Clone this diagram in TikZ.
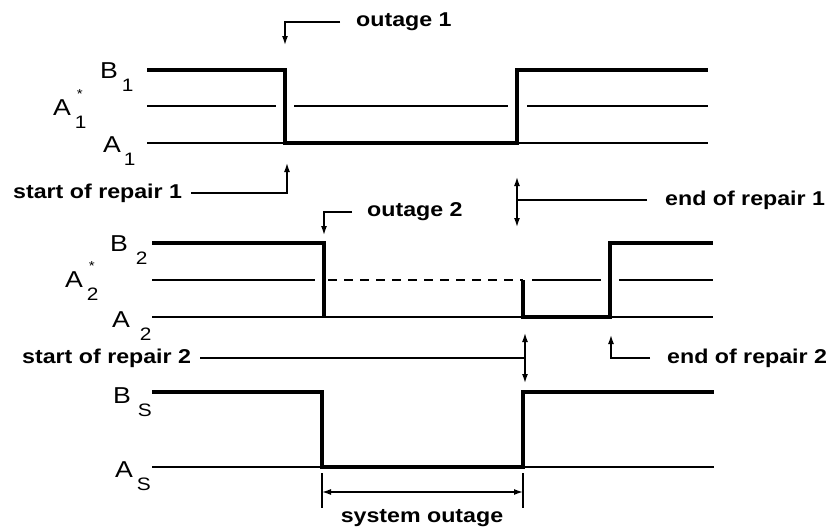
\documentclass[tikz,border=0pt]{standalone}
\usepackage{fontspec}
\setmainfont[FakeStretch=1.16]{Liberation Sans}
\usetikzlibrary{arrows.meta}
\newcommand{\subsz}{\fontsize{18}{18}\selectfont}
\newcommand{\siglab}[3][4pt]{#2\hspace{#1}\raisebox{-13pt}{\subsz #3}}
\newcommand{\starlab}[3][4pt]{#2\hspace{#1}\rlap{\hspace{2pt}\raisebox{17pt}{\fontsize{13}{13}\selectfont *}}\raisebox{-13pt}{\subsz #3}}
\begin{document}
\begin{tikzpicture}[x=1pt, y=-1pt, >={Latex[length=9pt,width=6pt]},
  sig/.style={line width=3.3pt},
  lvl/.style={line width=1.4pt},
  lead/.style={line width=1.4pt},
  tag/.style={font=\fontsize{20}{24}\selectfont\bfseries, inner sep=0pt},
  lab/.style={font=\fontsize{23}{26}\selectfont, inner sep=0pt, anchor=base west}]
\useasboundingbox (0,0) rectangle (833,531);
% component 1
\draw[lvl] (147,143) -- (708,143);
\draw[lvl] (147,106) -- (276,106) (294,106) -- (508,106) (527,106) -- (708,106);
\draw[sig] (147,70) -- (285,70) -- (285,143) -- (517,143) -- (517,70) -- (708,70);
\node[lab] (b1) at (100,78) {\siglab{B}{1}};
\node[lab] (a1s) at (53,115) {\starlab{A}{1}};
\node[lab] (a1) at (103,152) {\siglab[3pt]{A}{1}};
% component 2
\draw[lvl] (152,317) -- (713,317);
\draw[lvl] (152,280) -- (315,280) (532,280) -- (601,280) (619,280) -- (713,280);
\draw[lvl, dash pattern=on 9pt off 7pt] (328,280) -- (523,280);
\draw[sig] (152,243) -- (324,243) -- (324,317);
\draw[sig] (523,280) -- (523,317) -- (610,317) -- (610,243) -- (713,243);
\node[lab] (b2) at (110,251) {\siglab[8pt]{B}{2}};
\node[lab] (a2s) at (65,287) {\starlab{A}{2}};
\node[lab] (a2) at (112,327) {\siglab[10pt]{A}{2}};
% system
\draw[lvl] (152,467) -- (714,467);
\draw[sig] (152,392) -- (322,392) -- (322,467) -- (523,467) -- (523,392) -- (714,392);
\node[lab] (bs) at (113,403) {\siglab[7pt]{B}{S}};
\node[lab] (as) at (115,477) {\siglab[4pt]{A}{S}};
% events
\coordinate (o1) at (285,45);
\coordinate (r1) at (287,163);
\coordinate (e1a) at (517,177);
\coordinate (e1b) at (517,227);
\coordinate (o2) at (324,235);
\coordinate (r2a) at (525,333);
\coordinate (r2b) at (525,383);
\coordinate (e2) at (611,335);
\node[tag, anchor=west] (out1) at (356,22) {outage 1};
\node[tag, anchor=west] (rep1) at (13,193) {start of repair 1};
\node[tag, anchor=west] (end1) at (665,200) {end of repair 1};
\node[tag, anchor=west] (out2) at (367,212) {outage 2};
\node[tag, anchor=west] (rep2) at (22,358) {start of repair 2};
\node[tag, anchor=west] (end2) at (667,358) {end of repair 2};
\draw[lead, ->] ([xshift=-16pt]out1.west) -| (o1);
\draw[lead, ->] ([xshift=9pt]rep1.east) -| (r1);
\draw[lead, <->] (e1a) -- (e1b);
\draw[lead] ([xshift=-18pt]end1.west) -- (e1a |- end1.west);
\draw[lead, ->] ([xshift=-15pt]out2.west) -| (o2);
\draw[lead, <->] (r2a) -- (r2b);
\draw[lead] ([xshift=9pt]rep2.east) -- (r2a |- rep2.east);
\draw[lead, ->] ([xshift=-17pt]end2.west) -| (e2);
% duration
\coordinate (d1) at (322,473);
\coordinate (d2) at (523,473);
\draw[lead] (d1) -- ++(0,35) (d2) -- ++(0,35);
\draw[lead, <->] ([yshift=-19pt]d1) -- ([yshift=-19pt]d2);
\node[tag] (sysout) at (422,518) {system outage};
\end{tikzpicture}
\end{document}
